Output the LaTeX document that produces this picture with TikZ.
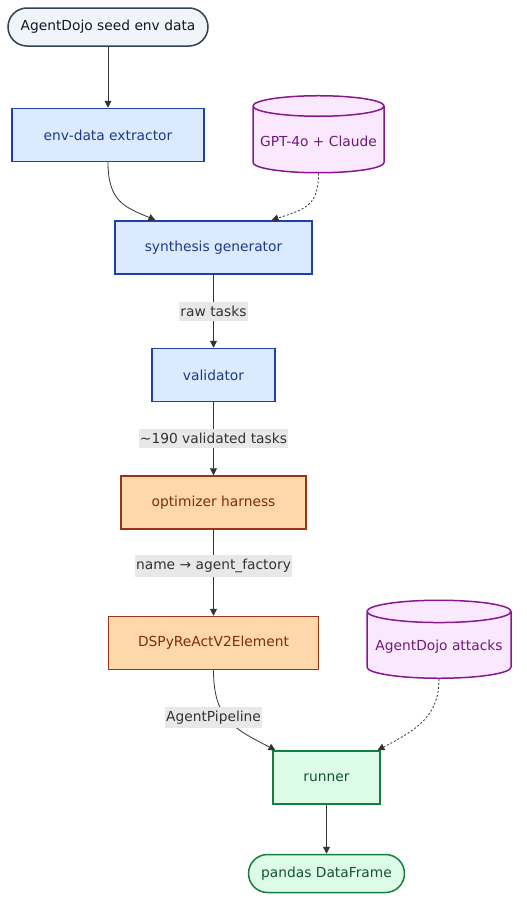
\documentclass[tikz,border=0pt]{standalone}
\usepackage{fontspec}
\setmainfont{DejaVu Sans}
\usetikzlibrary{shapes.geometric,arrows.meta,positioning}
\definecolor{seedFill}{HTML}{F1F5F9}
\definecolor{seedLine}{HTML}{334155}
\definecolor{seedText}{HTML}{0F172A}
\definecolor{blueFill}{HTML}{DBEAFE}
\definecolor{blueLine}{HTML}{1E40AF}
\definecolor{blueText}{HTML}{1E3A8A}
\definecolor{llmFill}{HTML}{FAE8FF}
\definecolor{llmLine}{HTML}{86198F}
\definecolor{llmText}{HTML}{701A75}
\definecolor{optFill}{HTML}{FED7AA}
\definecolor{optLine}{HTML}{9A3412}
\definecolor{optText}{HTML}{7C2D12}
\definecolor{runFill}{HTML}{DCFCE7}
\definecolor{runLine}{HTML}{15803D}
\definecolor{runText}{HTML}{14532D}
\definecolor{labelFill}{HTML}{E8E8E8}
\definecolor{wire}{HTML}{333333}
\tikzset{base node/.style={rectangle,draw,line width=1.5pt,inner sep=2pt,minimum height=53pt,
             font=\fontsize{13.8}{16}\selectfont},
         start node/.style={base node,rounded corners=19pt,minimum height=38pt,fill=seedFill,draw=seedLine,text=seedText},
         proc node/.style={base node,fill=blueFill,draw=blueLine,text=blueText},
         opt node/.style={base node,fill=optFill,draw=optLine,text=optText},
         run node/.style={base node,fill=runFill,draw=runLine,text=runText},
         end node/.style={run node,rounded corners=19pt,minimum height=38pt},
         store node/.style={cylinder,shape border rotate=90,aspect=0.17,draw,line width=1.5pt,inner sep=2pt,
             fill=llmFill,draw=llmLine,text=llmText,font=\fontsize{13.8}{16}\selectfont},
         edge label/.style={rectangle,fill=labelFill,text=wire,inner xsep=1pt,inner ysep=4pt,
             font=\fontsize{13.8}{16}\selectfont},
         flow/.style={->,line width=0.8pt,draw=wire},
         feed/.style={flow,dash pattern=on 2pt off 2pt}
}

\begin{document}
\begin{tikzpicture}[x=1pt,y=1pt,>={Triangle[length=7pt,width=7pt]}]
\useasboundingbox (0,0) rectangle (527,-913);
\node[start node,minimum width=200pt] (seed) at (108,-27) {AgentDojo seed env data};
\node[proc node,minimum width=192pt,below=61pt of seed] (extract) {env-data extractor};
\node[store node,minimum width=131pt,minimum height=77pt] (llm) at (318.5,-141) {GPT-4o + Claude};
\node[proc node,minimum width=197pt] (synth) at (213.5,-247.5) {synthesis generator};
\node[proc node,minimum width=123pt,below=73pt of synth] (valid) {validator};
\node[opt node,minimum width=185pt,below=73pt of valid] (harness) {optimizer harness};
\node[opt node,minimum width=210pt,below=86pt of harness] (element) {DSPyReActV2Element};
\node[store node,minimum width=144pt,minimum height=78pt] (attacks) at (439,-646.5) {AgentDojo attacks};
\node[run node,minimum width=107pt] (runner) at (326.5,-777.5) {runner};
\node[end node,minimum width=156pt,below=49pt of runner] (frame) {pandas DataFrame};

\draw[flow] (seed) -- (extract);
\draw[flow] (extract.south) .. controls +(0,-40) and +(-30,13) .. ([xshift=-58pt]synth.north);
\draw[feed] (llm.south) .. controls +(0,-33) and +(33,11) .. ([xshift=58pt]synth.north);
\draw[flow] (synth) -- node[edge label] {raw tasks} (valid);
\draw[flow] (valid) -- node[edge label] {\textasciitilde190 validated tasks} (harness);
\draw[flow] (harness) -- node[edge label,pos=0.42] {name → agent\_factory} (element);
\draw[flow] (element.south) .. controls +(0,-50) and +(-40,21) .. node[edge label,pos=0.45,xshift=-13pt] {AgentPipeline} ([xshift=-51pt]runner.north);
\draw[feed] (attacks.south) .. controls +(0,-37) and +(40,21) .. ([xshift=51pt]runner.north);
\draw[flow] (runner) -- (frame);
\end{tikzpicture}
\end{document}
